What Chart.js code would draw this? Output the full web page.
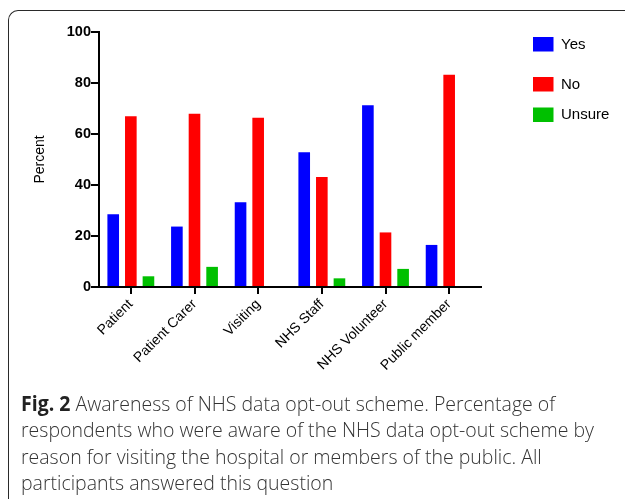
<!DOCTYPE html>
<html>
<head>
<meta charset="utf-8">
<script src="https://cdn.jsdelivr.net/npm/chart.js@4"></script>
<style>
  html, body { margin: 0; padding: 0; background: #fff; }
  body { width: 625px; height: 499px; position: relative; overflow: hidden; }
  #frame { position: absolute; left: 8px; top: 10px; width: 700px; height: 600px;
           border-left: 1.6px solid #2a2a2a; border-top: 1.6px solid #2a2a2a; border-top-left-radius: 10px; }
  #wrap { position: absolute; left: 0; top: 0; width: 625px; height: 499px; }
  #caption { position: absolute; left: 21px; top: 390px; font-family: "Open Sans", sans-serif;
             font-size: 20.5px; line-height: 26.3px; color: #333; font-weight: 300; }
  #caption span { display: block; white-space: nowrap; transform-origin: left center; }
  #caption b { font-weight: 700; color: #222; }
</style>
</head>
<body>
<div id="frame"></div>
<div id="wrap"><canvas id="c" width="625" height="499"></canvas></div>
<div id="caption">
  <span><b>Fig. 2</b> Awareness of NHS data opt-out scheme. Percentage of</span>
  <span>respondents who were aware of the NHS data opt-out scheme by</span>
  <span>reason for visiting the hospital or members of the public. All</span>
  <span>participants answered this question</span>
</div>
<script>
const categories = ['Patient', 'Patient Carer', 'Visiting', 'NHS Staff', 'NHS Volunteer', 'Public member'];
const yesValues = [28.5, 23.7, 33.2, 52.8, 71.3, 16.5];
const noValues = [67.0, 67.9, 66.4, 43.1, 21.4, 83.2];
const unsureValues = [4.2, 7.9, 0, 3.4, 7.1, 0];
const seriesNames = ['Yes', 'No', 'Unsure'];
const yTicks = [0, 20, 40, 60, 80, 100];

const colors = ['#0000ff', '#ff0000', '#00c000'];
const FONT = '"Liberation Sans", Arial, sans-serif';

const legendPlugin = {
  id: 'customLegend',
  afterDraw(chart) {
    const ctx = chart.ctx;
    const ys = [37, 77, 107.5];
    ctx.save();
    chart.data.datasets.forEach((ds, i) => {
      ctx.fillStyle = ds.backgroundColor;
      ctx.fillRect(533, ys[i], 20.5, 14.5);
      ctx.fillStyle = '#000';
      ctx.font = '15px ' + FONT;
      ctx.textBaseline = 'middle';
      ctx.textAlign = 'left';
      ctx.fillText(ds.label, 561, ys[i] + 7.5);
    });
    ctx.restore();
  }
};

new Chart(document.getElementById('c'), {
  type: 'bar',
  data: {
    labels: categories,
    datasets: [
      { label: seriesNames[0], data: yesValues, backgroundColor: colors[0] },
      { label: seriesNames[1], data: noValues, backgroundColor: colors[1] },
      { label: seriesNames[2], data: unsureValues, backgroundColor: colors[2] }
    ]
  },
  options: {
    responsive: false,
    animation: false,
    devicePixelRatio: 1,
    layout: { padding: { left: 0, top: 32, right: 144, bottom: 119 } },
    datasets: { bar: { categoryPercentage: 0.83, barPercentage: 0.66 } },
    plugins: { legend: { display: false }, tooltip: { enabled: false } },
    scales: {
      x: {
        offset: true,
        afterFit(scale) { scale.height = 93; },
        grid: { display: true, drawOnChartArea: false, drawTicks: true, tickLength: 7, color: '#000', lineWidth: 2, offset: false },
        border: { display: true, color: '#000', width: 2 },
        ticks: { color: '#000', font: { family: FONT, size: 14 }, minRotation: 45, maxRotation: 45, padding: 2, autoSkip: false }
      },
      y: {
        min: 0, max: 100,
        afterBuildTicks(scale) { scale.ticks = yTicks.map(v => ({ value: v })); },
        afterFit(scale) { scale.width = 99; },
        grid: { display: true, drawOnChartArea: false, drawTicks: true, tickLength: 8, color: '#000', lineWidth: 2 },
        border: { display: true, color: '#000', width: 2 },
        ticks: { color: '#000', font: { family: FONT, size: 14.5, weight: 'bold' }, padding: 0 },
        title: { display: true, text: 'Percent', color: '#000', font: { family: FONT, size: 14 }, padding: { top: 32, bottom: 0 } }
      }
    }
  },
  plugins: [legendPlugin]
});

// fit caption lines to the reference line width
(function fitCaption() {
  const spans = document.querySelectorAll('#caption span');
  const w = spans[1].getBoundingClientRect().width;
  const s = 573 / w;
  spans.forEach(sp => { sp.style.transform = 'scaleX(' + s + ')'; });
})();
</script>
</body>
</html>
